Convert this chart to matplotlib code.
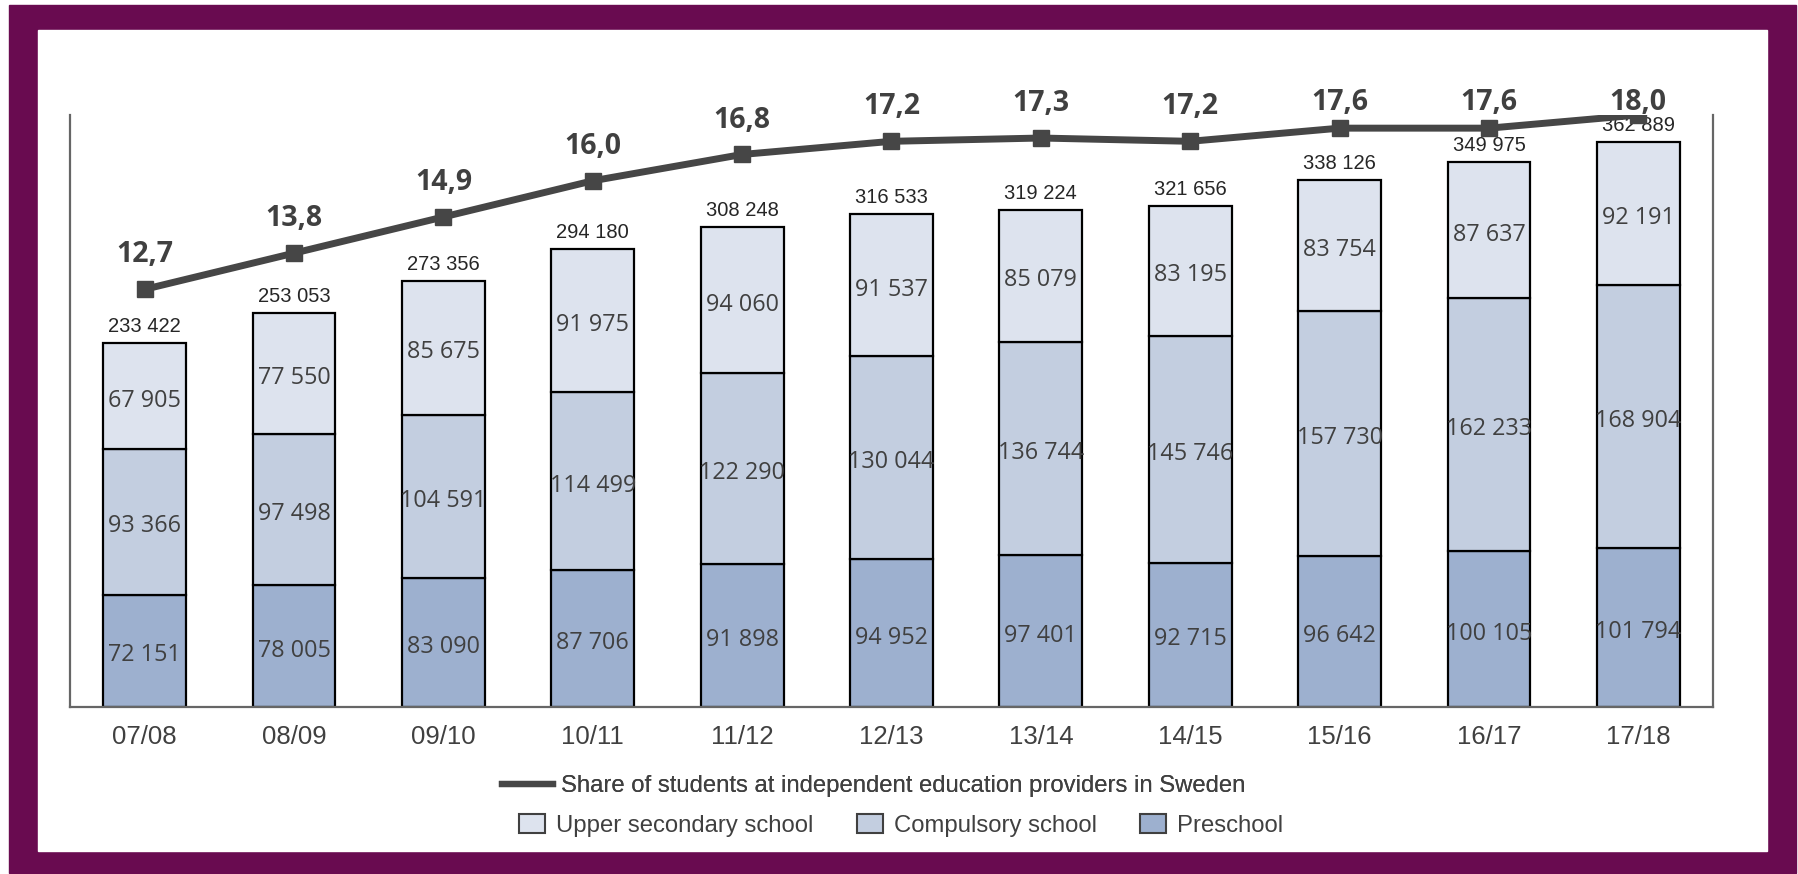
import matplotlib
matplotlib.use("Agg")
import matplotlib.pyplot as plt
from matplotlib.patches import Rectangle, Patch
from matplotlib.lines import Line2D
from matplotlib import transforms
import numpy as np

years = ["07/08", "08/09", "09/10", "10/11", "11/12", "12/13",
         "13/14", "14/15", "15/16", "16/17", "17/18"]
preschool = [72151, 78005, 83090, 87706, 91898, 94952,
             97401, 92715, 96642, 100105, 101794]
compulsory = [93366, 97498, 104591, 114499, 122290, 130044,
              136744, 145746, 157730, 162233, 168904]
upper_secondary = [67905, 77550, 85675, 91975, 94060, 91537,
                   85079, 83195, 83754, 87637, 92191]
totals = [233422, 253053, 273356, 294180, 308248, 316533,
          319224, 321656, 338126, 349975, 362889]
share = [12.7, 13.8, 14.9, 16.0, 16.8, 17.2, 17.3, 17.2, 17.6, 17.6, 18.0]

C_PRE = "#9DB0CF"
C_COMP = "#C3CEE0"
C_UPPER = "#DDE3EE"
C_LINE = "#464646"
C_TEXT = "#404040"
PURPLE = "#690B50"


def fmt_int(v):
    return f"{v:,}".replace(",", " ")


W, H = 1799, 874
fig = plt.figure(figsize=(W / 100, H / 100), dpi=100, facecolor="white")

# purple frame around the white panel
fig.patches.append(Rectangle((9 / W, 1 - 873 / H), (1796 - 9) / W, (873 - 5) / H,
                             transform=fig.transFigure, color=PURPLE, zorder=-5))
fig.patches.append(Rectangle((38 / W, 1 - 851 / H), (1767 - 38) / W, (851 - 30) / H,
                             transform=fig.transFigure, color="white", zorder=-4))

ax = fig.add_axes([70 / W, 1 - 707 / H, (1713 - 70) / W, (707 - 115) / H], zorder=2)
ax.set_facecolor("none")
x = np.arange(len(years))
bw = 0.555

pre = np.array(preschool)
comp = np.array(compulsory)
upp = np.array(upper_secondary)

ax.bar(x, pre, bw, color=C_PRE, edgecolor="black", linewidth=1.6, zorder=2)
ax.bar(x, comp, bw, bottom=pre, color=C_COMP, edgecolor="black", linewidth=1.6, zorder=2)
ax.bar(x, upp, bw, bottom=pre + comp, color=C_UPPER, edgecolor="black", linewidth=1.6, zorder=2)

# Open Sans sits a little high with va=center, nudge it down
seg_tr = transforms.offset_copy(ax.transData, fig=fig, x=0, y=-4.5, units="dots")
seg_font = dict(family="Open Sans", fontsize=16.8, color=C_TEXT, ha="center", va="center",
                zorder=5, transform=seg_tr)
for i in range(len(years)):
    ax.text(x[i], pre[i] / 2, fmt_int(pre[i]), **seg_font)
    ax.text(x[i], pre[i] + comp[i] / 2, fmt_int(comp[i]), **seg_font)
    ax.text(x[i], pre[i] + comp[i] + upp[i] / 2, fmt_int(upp[i]), **seg_font)
    ax.text(x[i], totals[i] + 4500, fmt_int(totals[i]), family="Liberation Sans",
            fontsize=14.5, color="#262626", ha="center", va="bottom", zorder=5)

ax.set_ylim(0, 380000)
ax.set_xlim(-0.5, len(years) - 0.5)
ax.set_yticks([])
ax.set_xticks(x)
ax.set_xticklabels(years, family="Liberation Sans", fontsize=18.5, color=C_TEXT)
ax.tick_params(axis="x", length=0, pad=13)
for side in ["left", "bottom", "right"]:
    ax.spines[side].set_color("#666666")
    ax.spines[side].set_linewidth(1.6)
ax.spines["top"].set_visible(False)

# share of students on a secondary scale
ax2 = ax.twinx()
ax2.set_zorder(3)
ax2.set_ylim(0, 18)
ax2.set_yticks([])
for side in ["left", "bottom", "right", "top"]:
    ax2.spines[side].set_visible(False)
ax2.plot(x, share, color=C_LINE, linewidth=5.0, marker="s", markersize=11, zorder=3,
         solid_capstyle="butt")
lbl_tr = transforms.offset_copy(ax2.transData, fig=fig, x=0, y=-2.5, units="dots")
for i, v in enumerate(share):
    ax2.text(x[i], min(v + 1.12, 18.45), f"{v:.1f}".replace(".", ","), family="Open Sans",
             fontweight="bold", fontsize=20.5, color=C_TEXT, ha="center", va="center", zorder=6,
             transform=lbl_tr)

leg_font = dict(family="Liberation Sans", size=17.2)
line_handle = Line2D([], [], color=C_LINE, linewidth=4.5)
leg1 = fig.legend([line_handle], ["Share of students at independent education providers in Sweden"],
                  loc="center", bbox_to_anchor=(873.5 / W, 1 - 786 / H), frameon=False,
                  prop=leg_font, handlelength=2.15, handletextpad=0.33,
                  labelcolor=C_TEXT)
patches = [Patch(facecolor=c, edgecolor="#404040", linewidth=1.5) for c in (C_UPPER, C_COMP, C_PRE)]
fig.legend(patches, ["Upper secondary school", "Compulsory school", "Preschool"],
           loc="center", bbox_to_anchor=(901 / W, 1 - 825.5 / H), ncol=3, frameon=False,
           prop=leg_font, handlelength=1.1, handleheight=0.85,
           handletextpad=0.45, columnspacing=1.8, labelcolor=C_TEXT)
fig.add_artist(leg1)

fig.savefig("out.png", dpi=100, facecolor="white")
